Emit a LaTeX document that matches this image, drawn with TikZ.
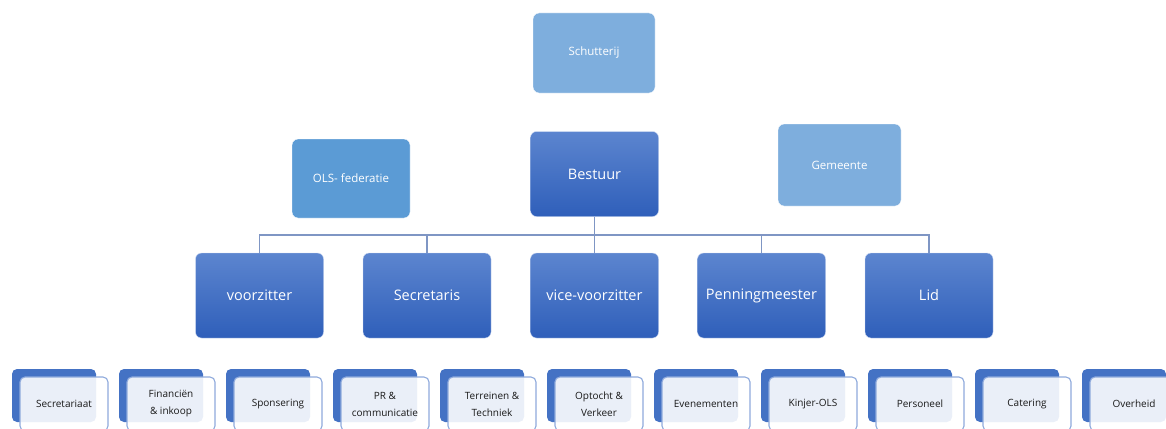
\documentclass[tikz,border=0pt]{standalone}
\usepackage{fontspec}
\setmainfont{Open Sans}
\usepackage{tikz}
\usepackage{xcolor}

\definecolor{lightbox}{HTML}{7EAEDD}
\definecolor{olsbox}{HTML}{5B9BD5}
\definecolor{darktop}{HTML}{5C85CF}
\definecolor{darkbot}{HTML}{2F5FBA}
\definecolor{backbox}{HTML}{4472C4}
\definecolor{frontline}{HTML}{8FAADC}
\definecolor{connline}{HTML}{7F96C4}

\begin{document}
\begin{tikzpicture}[
            x = 1pt, y = -1pt, % pixel units, y downwards
            outer box/.style = {rectangle, rounded corners=6pt, draw=white, thin,
                text=white, minimum width=122pt, minimum height=80pt,
                font=\fontsize{11.5}{13}\selectfont},
            board box/.style = {rectangle, rounded corners=6pt, draw=white!70!darktop, thin,
                top color=darktop, bottom color=darkbot, text=white,
                minimum width=128pt, minimum height=85pt,
                font=\fontsize{14.5}{16}\selectfont},
            task back/.style = {rectangle, rounded corners=5pt, fill=backbox,
                minimum width=84pt, minimum height=53pt},
            task front/.style = {rectangle, rounded corners=5pt, draw=frontline,
                line width=1.1pt, fill=white, fill opacity=0.89, text opacity=1,
                text=black!90, align=center, minimum width=88pt, minimum height=54pt,
                font=\fontsize{10}{17}\selectfont},
            conn/.style = {draw=connline, line width=1.7pt}
        ]
\useasboundingbox (0,0) rectangle (1166,428);

% outside parties
\node[outer box, fill=lightbox] (schut) at (594,53) {Schutterij};
\node[outer box, fill=olsbox, minimum width=118pt, minimum height=79pt] (ols) at (351,178.5) {OLS- federatie};
\node[outer box, fill=lightbox, minimum width=123pt, minimum height=82pt] (gem) at (839.5,165) {Gemeente};

% board
\node[board box] (best) at (594.5,174) {Bestuur};
\node[board box] (voor) at (259.5,295.5) {voorzitter};
\node[board box] (secr) at (427,295.5) {Secretaris};
\node[board box] (vice) at (594.5,295.5) {vice-voorzitter};
\node[board box] (penn) at (761.5,295.5) {Penningmeester};
\node[board box] (lid) at (929,295.5) {Lid};

\path[conn] (best.south) -- (vice.north);
\path[conn] (voor.north) -- ++(0,-18) -| (lid.north);
\path[conn] (secr.north) -- ++(0,-18);
\path[conn] (penn.north) -- ++(0,-18);

% tasks
\node[task back] (b1) at (54,395.5) {};
\node[task front] (t1) at (64,404) {Secretariaat};
\node[task back] (b2) at (161,395.5) {};
\node[task front] (t2) at (171,404) {Financiën\\\& inkoop};
\node[task back] (b3) at (268,395.5) {};
\node[task front] (t3) at (278,404) {Sponsering};
\node[task back] (b4) at (375,395.5) {};
\node[task front] (t4) at (385,404) {PR \&\\communicatie};
\node[task back] (b5) at (482,395.5) {};
\node[task front] (t5) at (492,404) {Terreinen \&\\Techniek};
\node[task back] (b6) at (589,395.5) {};
\node[task front] (t6) at (599,404) {Optocht \&\\Verkeer};
\node[task back] (b7) at (696,395.5) {};
\node[task front] (t7) at (706,404) {Evenementen};
\node[task back] (b8) at (803,395.5) {};
\node[task front] (t8) at (813,404) {Kinjer-OLS};
\node[task back] (b9) at (910,395.5) {};
\node[task front] (t9) at (920,404) {Personeel};
\node[task back] (b10) at (1017,395.5) {};
\node[task front] (t10) at (1027,404) {Catering};
\node[task back] (b11) at (1124,395.5) {};
\node[task front] (t11) at (1134,404) {Overheid};

\end{tikzpicture}
\end{document}
